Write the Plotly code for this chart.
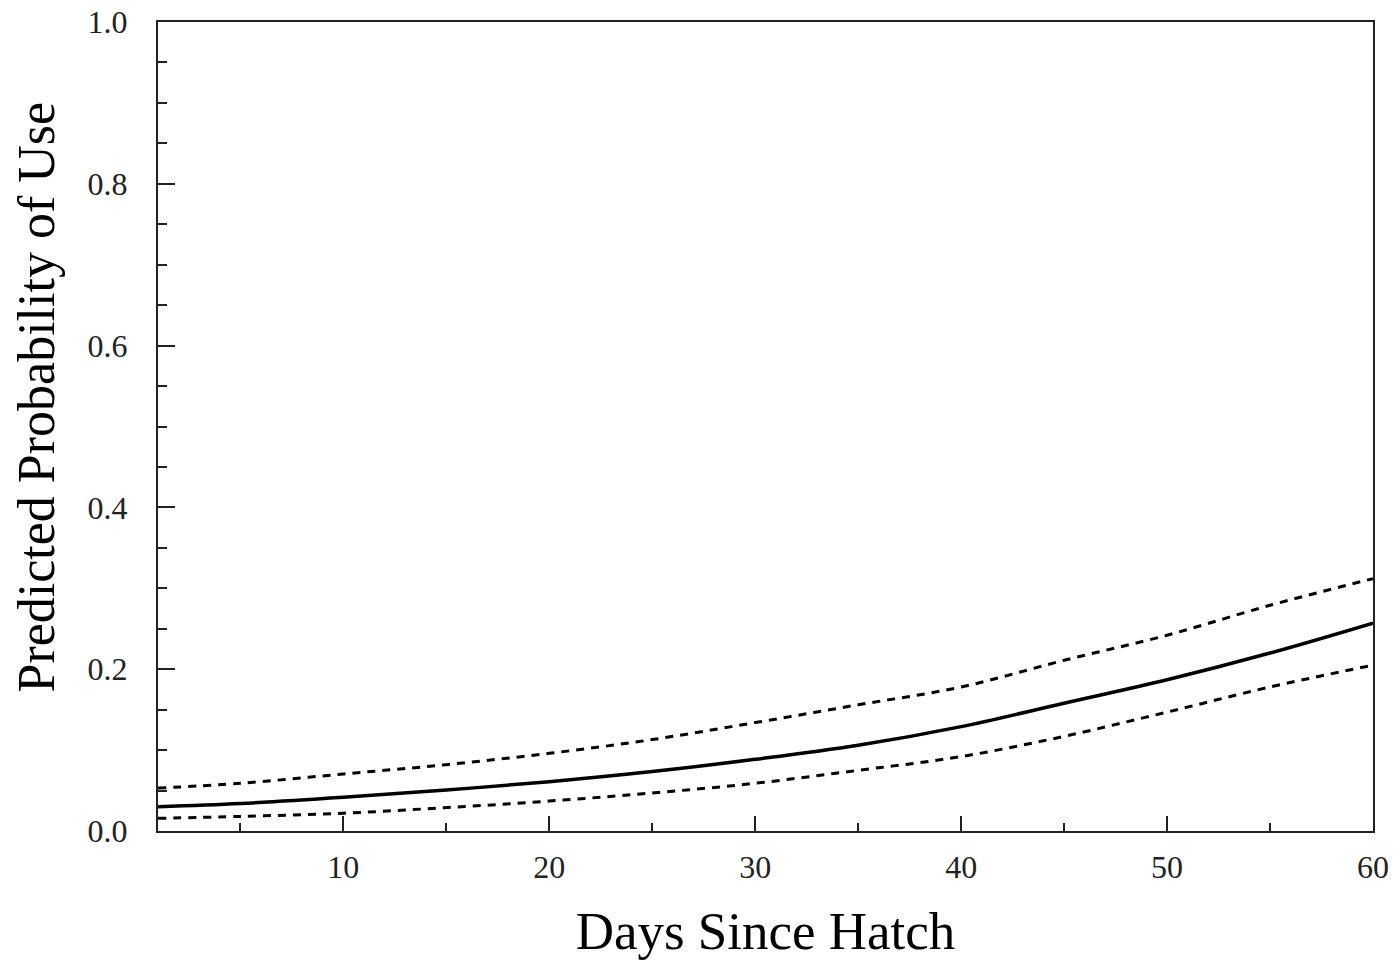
import plotly.graph_objects as go

days = [1, 5, 10, 15, 20, 25, 30, 35, 40, 45, 50, 55, 60]
predicted = [0.030, 0.034, 0.0416, 0.0507, 0.061, 0.0735, 0.0886, 0.106, 0.129, 0.158, 0.187, 0.220, 0.257]
upper_ci = [0.053, 0.059, 0.0705, 0.082, 0.096, 0.113, 0.134, 0.156, 0.178, 0.211, 0.242, 0.279, 0.312]
lower_ci = [0.0157, 0.018, 0.022, 0.0289, 0.037, 0.047, 0.059, 0.075, 0.092, 0.117, 0.147, 0.178, 0.205]

x_ticks = [10, 20, 30, 40, 50, 60]
x_minor = [5, 15, 25, 35, 45, 55]
y_ticks = [0.0, 0.2, 0.4, 0.6, 0.8, 1.0]
y_minor = [0.05, 0.1, 0.15, 0.25, 0.3, 0.35, 0.45, 0.5, 0.55, 0.65, 0.7, 0.75, 0.85, 0.9, 0.95]

fig = go.Figure()
fig.add_trace(go.Scatter(x=days, y=upper_ci, mode="lines", line=dict(color="black", width=3, dash="8px,7px", shape="spline"), showlegend=False))
fig.add_trace(go.Scatter(x=days, y=lower_ci, mode="lines", line=dict(color="black", width=3, dash="8px,7px", shape="spline"), showlegend=False))
fig.add_trace(go.Scatter(x=days, y=predicted, mode="lines", line=dict(color="black", width=3.5, shape="spline"), showlegend=False))

font_family = "Liberation Serif"
fig.update_layout(
    width=1397, height=965,
    margin=dict(l=158, r=24, t=22, b=134, autoexpand=False),
    paper_bgcolor="white", plot_bgcolor="white",
    font=dict(family=font_family, color="black"),
    xaxis=dict(
        range=[1, 60], tickmode="array", tickvals=x_ticks, ticktext=[str(v) for v in x_ticks],
        ticks="inside", ticklen=15, tickwidth=2, tickcolor="#222",
        minor=dict(tickmode="array", tickvals=x_minor, ticks="inside", ticklen=8, tickwidth=2, tickcolor="#222"),
        showline=True, linewidth=2, linecolor="#222", mirror=True,
        showgrid=False, zeroline=False, automargin=False,
        tickfont=dict(size=32, family=font_family, color="#222"),
        ticklabelstandoff=7, ticklabeloverflow="allow",
        title=dict(text="Days Since Hatch", font=dict(size=53, family=font_family, color="black"), standoff=27),
    ),
    yaxis=dict(
        range=[0, 1], tickmode="array", tickvals=y_ticks, ticktext=[f"{v:.1f}" for v in y_ticks],
        ticks="inside", ticklen=17, tickwidth=2, tickcolor="#222",
        minor=dict(tickmode="array", tickvals=y_minor, ticks="inside", ticklen=9, tickwidth=2, tickcolor="#222"),
        showline=True, linewidth=2, linecolor="#222", mirror=True,
        showgrid=False, zeroline=False, automargin=False,
        tickfont=dict(size=32, family=font_family, color="#222"),
        ticklabelstandoff=22, ticklabeloverflow="allow",
    ),
    annotations=[dict(
        text="Predicted Probability of Use", textangle=-90,
        xref="paper", yref="paper", x=-0.1003, y=0.536,
        xanchor="center", yanchor="middle", showarrow=False,
        font=dict(size=52, family=font_family, color="black"),
    )],
)

fig.write_html("out.html", config={"displayModeBar": False},
               post_script="document.body.style.margin='0';document.body.style.overflow='hidden';")
